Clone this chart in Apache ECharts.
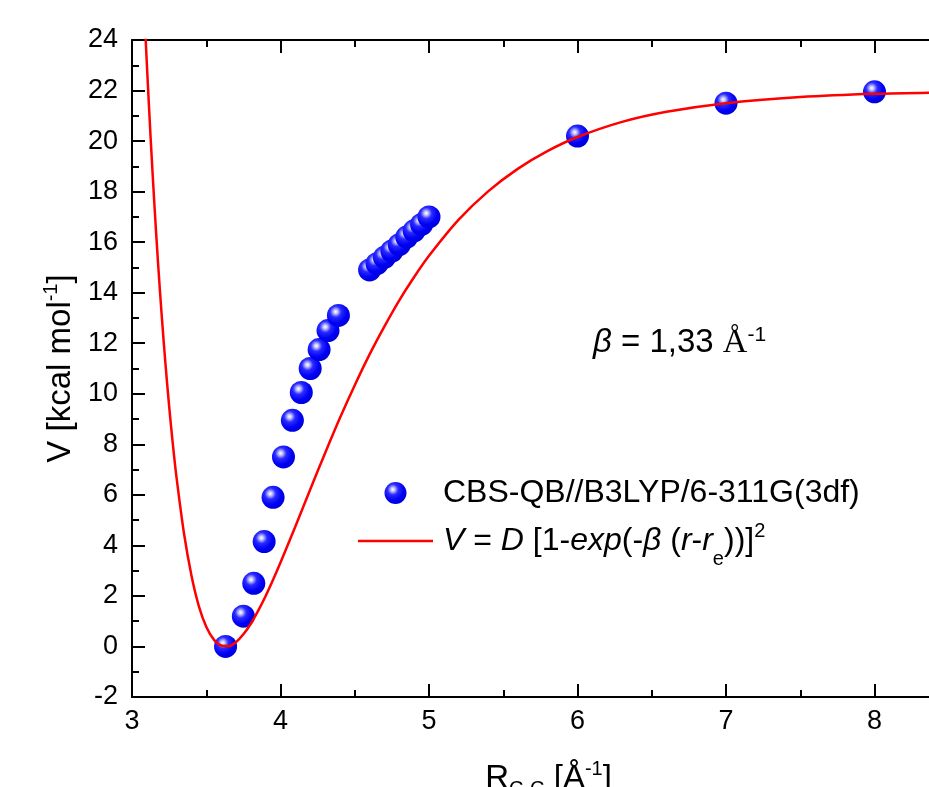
<!DOCTYPE html>
<html>
<head>
<meta charset="utf-8">
<script src="https://cdn.jsdelivr.net/npm/echarts@6/dist/echarts.min.js"></script>
<style>
  html, body { margin: 0; padding: 0; background: #ffffff; }
  #chart { width: 929px; height: 787px; }
</style>
</head>
<body>
<div id="chart"></div>
<script>
// Computed points (CBS-QB//B3LYP/6-311G(3df))
var pointR = [3.63, 3.75, 3.82, 3.89, 3.95, 4.02, 4.08, 4.14, 4.20, 4.26, 4.32, 4.39,
              4.60, 4.65, 4.70, 4.75, 4.80, 4.85, 4.90, 4.95, 5.00, 6.00, 7.00, 8.00];
var pointV = [0.0, 1.2, 2.5, 4.15, 5.9, 7.5, 8.95, 10.05, 11.0, 11.75, 12.5, 13.1,
              14.9, 15.15, 15.4, 15.65, 15.9, 16.2, 16.45, 16.7, 17.0, 20.2, 21.5, 21.95];

// Morse fit curve
var curveR = [3.08, 3.10, 3.125, 3.15, 3.175, 3.20, 3.225, 3.25, 3.275, 3.30, 3.35, 3.40,
              3.45, 3.50, 3.55, 3.60, 3.65, 3.70, 3.75, 3.80, 3.85, 3.90, 3.95, 4.00,
              4.10, 4.20, 4.30, 4.40, 4.50, 4.60, 4.70, 4.80, 4.90, 5.00, 5.20, 5.40,
              5.60, 5.80, 6.00, 6.30, 6.60, 7.00, 7.50, 8.00, 8.50, 9.00];
var curveV = [25.57, 23.05, 20.17, 17.57, 15.21, 13.10, 11.21, 9.51, 8.01, 6.68, 4.48, 2.82,
              1.60, 0.78, 0.28, 0.04, 0.015, 0.17, 0.48, 0.90, 1.42, 2.00, 2.64, 3.32,
              4.75, 6.21, 7.65, 9.04, 10.34, 11.56, 12.67, 13.70, 14.62, 15.46, 16.89, 18.02,
              18.91, 19.61, 20.16, 20.76, 21.16, 21.50, 21.74, 21.87, 21.93, 21.96];

var seriesNames = ['CBS-QB//B3LYP/6-311G(3df)', 'Morse'];
var xTitle = '{t|R}{sub|C-C}{t| [Å}{sup|-1}{t|]}';
var yTitle = '{t|V [kcal mol}{sup|-1}{t|]}';
var annotation = '{b|β}{t| = 1,33 }{a|Å}{sup|-1}';
var morseLabel = '{i|V}{t| = }{i|D}{t| [1-}{i|exp}{t|(-}{i|β}{t| (}{i|r}{t|-}{i|r}{sub|e}{t|))]}{sup|2}';

var FONT = '"Liberation Sans", Arial, sans-serif';
var chart = echarts.init(document.getElementById('chart'), null, { renderer: 'canvas' });

var sphere = {
  type: 'radial', x: 0.38, y: 0.34, r: 0.7,
  colorStops: [
    { offset: 0.0, color: '#ffffff' },
    { offset: 0.12, color: '#c8c8ff' },
    { offset: 0.35, color: '#2a2aff' },
    { offset: 0.7, color: '#0000f5' },
    { offset: 1.0, color: '#0000d8' }
  ]
};

function axisCommon() {
  return {
    type: 'value', min: 3, max: 9, interval: 1,
    axisLine: { show: true, onZero: false, lineStyle: { color: '#000', width: 2 } },
    axisTick: { show: true, inside: true, length: 13, lineStyle: { color: '#000', width: 2 } },
    minorTick: { show: true, splitNumber: 2, length: 7, lineStyle: { color: '#000', width: 2 } },
    splitLine: { show: false },
    minorSplitLine: { show: false }
  };
}

var xBottom = axisCommon();
xBottom.position = 'bottom';
xBottom.axisLabel = { show: true, color: '#000', fontSize: 27, fontFamily: FONT, margin: 11 };
xBottom.name = xTitle;
xBottom.nameLocation = 'middle';
xBottom.nameGap = 62;
xBottom.nameTextStyle = {
  fontFamily: FONT, color: '#000', padding: [0, 58, 0, 0],
  rich: {
    t: { fontSize: 33, fontFamily: FONT, color: '#000', lineHeight: 40 },
    sub: { fontSize: 20, fontFamily: FONT, color: '#000', lineHeight: 20, verticalAlign: 'bottom', padding: [6, 0, 0, 0] },
    sup: { fontSize: 20, fontFamily: FONT, color: '#000', lineHeight: 20, verticalAlign: 'top' }
  }
};

var xTop = axisCommon();
xTop.position = 'top';
xTop.axisLabel = { show: false };

var option = {
  backgroundColor: '#ffffff',
  animation: false,
  grid: { left: 132, top: 40, right: -94, bottom: 90, outerBoundsMode: 'none', containLabel: false },
  xAxis: [xBottom, xTop],
  yAxis: [{
    type: 'value', min: -2, max: 24, interval: 2, position: 'left',
    axisLine: { show: true, onZero: false, lineStyle: { color: '#000', width: 2 } },
    axisTick: { show: true, inside: true, length: 13, lineStyle: { color: '#000', width: 2 } },
    minorTick: { show: true, splitNumber: 2, length: 7, lineStyle: { color: '#000', width: 2 } },
    splitLine: { show: false },
    axisLabel: { color: '#000', fontSize: 27, fontFamily: FONT, margin: 14 },
    name: yTitle,
    nameLocation: 'middle',
    nameGap: 50,
    nameTextStyle: {
      fontFamily: FONT, color: '#000',
      rich: {
        t: { fontSize: 33, fontFamily: FONT, color: '#000', lineHeight: 38 },
        sup: { fontSize: 20, fontFamily: FONT, color: '#000', lineHeight: 20, verticalAlign: 'top' }
      }
    }
  }],
  legend: {
    orient: 'vertical',
    left: 358, top: 475,
    padding: 0,
    itemWidth: 75, itemHeight: 22, itemGap: 2,
    data: [
      { name: seriesNames[0], icon: 'circle' },
      { name: seriesNames[1], icon: 'path://M0,0 L75,0 L75,2.5 L0,2.5 Z' }
    ],
    formatter: function (name) { return name === 'Morse' ? morseLabel : name; },
    textStyle: {
      fontFamily: FONT, fontSize: 32, color: '#000', lineHeight: 36, padding: [0, 0, 0, 5],
      rich: {
        t: { fontSize: 32, fontFamily: FONT, color: '#000', lineHeight: 56 },
        i: { fontSize: 32, fontFamily: FONT, fontStyle: 'italic', color: '#000', lineHeight: 56 },
        sub: { fontSize: 20, fontFamily: FONT, color: '#000', lineHeight: 20, verticalAlign: 'bottom' },
        sup: { fontSize: 20, fontFamily: FONT, color: '#000', lineHeight: 20, verticalAlign: 'top', padding: [8, 0, 0, 0] }
      }
    }
  },
  graphic: [{
    type: 'text', x: 593, y: 343, z: 100,
    style: {
      text: annotation, verticalAlign: 'middle', fill: '#000',
      font: '33px ' + FONT,
      rich: {
        b: { fontSize: 33, fontFamily: FONT, fontStyle: 'italic', fill: '#000', lineHeight: 40 },
        t: { fontSize: 33, fontFamily: FONT, fill: '#000', lineHeight: 40 },
        a: { fontSize: 34, fontFamily: '"Liberation Serif", "Times New Roman", serif', fill: '#000', lineHeight: 40 },
        sup: { fontSize: 21, fontFamily: FONT, fill: '#000', lineHeight: 21, verticalAlign: 'top', padding: [2, 0, 0, 0] }
      }
    }
  }],
  series: [
    {
      name: seriesNames[0],
      type: 'scatter',
      xAxisIndex: 0, yAxisIndex: 0,
      symbol: 'circle', symbolSize: 23,
      itemStyle: { color: sphere, opacity: 1 },
      data: pointR.map(function (r, i) { return [r, pointV[i]]; }),
      z: 2
    },
    {
      name: seriesNames[1],
      type: 'line',
      xAxisIndex: 0, yAxisIndex: 0,
      symbol: 'none', showSymbol: false,
      smooth: 0.3,
      clip: true,
      lineStyle: { color: '#ff0000', width: 2.5 },
      itemStyle: { color: '#ff0000' },
      data: curveR.map(function (r, i) { return [r, curveV[i]]; }),
      z: 3
    }
  ]
};

chart.setOption(option);
</script>
</body>
</html>
